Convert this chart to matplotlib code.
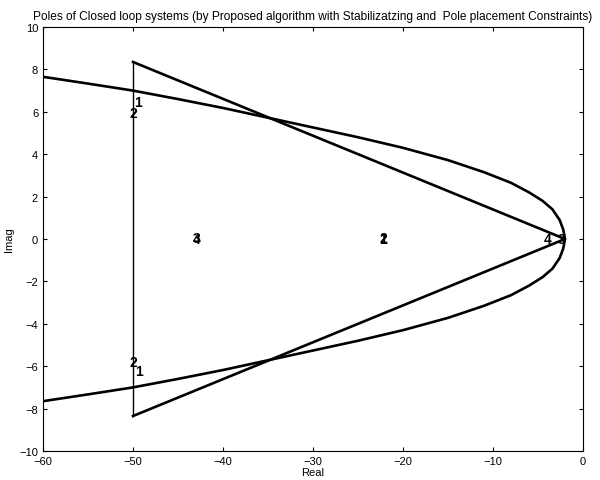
import matplotlib
matplotlib.use("Agg")
import matplotlib.pyplot as plt
import numpy as np

plt.rcParams['font.family'] = ['Liberation Sans', 'DejaVu Sans']

# boundary curve (upper half; lower half mirrored)
curve_x = [-60, -55, -50, -45, -40, -35, -30, -25, -20, -15, -11, -8, -6, -4.5, -3.4, -2.6, -2.2, -2.0]
curve_y = [7.65, 7.33, 7.0, 6.6, 6.18, 5.72, 5.26, 4.8, 4.3, 3.72, 3.15, 2.65, 2.2, 1.8, 1.4, 0.9, 0.45, 0.0]

# triangle region
tri_x = [-50, -2, -50]
tri_y = [8.35, 0, -8.35]

# vertical boundary
vert_x = [-50, -50]
vert_y = [8.35, -8.35]

# pole labels
pole_labels = ['1', '2', '2', '1', '3', '4', '2', '1', '4', '3']
pole_x = [-49.4, -50.0, -50.0, -49.3, -42.9, -42.9, -22.2, -22.2, -3.9, -2.4]
pole_y = [6.45, 5.95, -5.8, -6.25, 0.05, 0.0, 0.05, 0.0, 0.0, 0.0]

fig = plt.figure(figsize=(6, 4.81), dpi=100)
ax = fig.add_axes([0.0717, 0.0603, 0.9, 0.8815])

cx = np.array(curve_x)
cy = np.array(curve_y)
ax.plot(np.concatenate([cx, cx[::-1][1:]]), np.concatenate([cy, -cy[::-1][1:]]),
        color='black', lw=1.9)
ax.plot(tri_x, tri_y, color='black', lw=1.9)
ax.plot(vert_x, vert_y, color='black', lw=1.0)

for lab, x, y in zip(pole_labels, pole_x, pole_y):
    ax.text(x, y, lab, ha='center', va='center', fontsize=10, fontweight='bold')

ax.set_xlim(-60, 0)
ax.set_ylim(-10, 10)
ax.set_xticks(range(-60, 1, 10))
ax.set_yticks(range(-10, 11, 2))
ax.tick_params(direction='in', top=True, right=True, length=3, labelsize=8, width=0.8)
for s in ax.spines.values():
    s.set_linewidth(0.8)

ax.set_xlabel('Real', fontsize=8, labelpad=1)
ax.set_ylabel('Imag', fontsize=8, labelpad=4)
ax.set_title('Poles of Closed loop systems (by Proposed algorithm with Stabilizatzing and  Pole placement Constraints)',
             fontsize=8.6, pad=6)

fig.savefig('out.png', dpi=100)
